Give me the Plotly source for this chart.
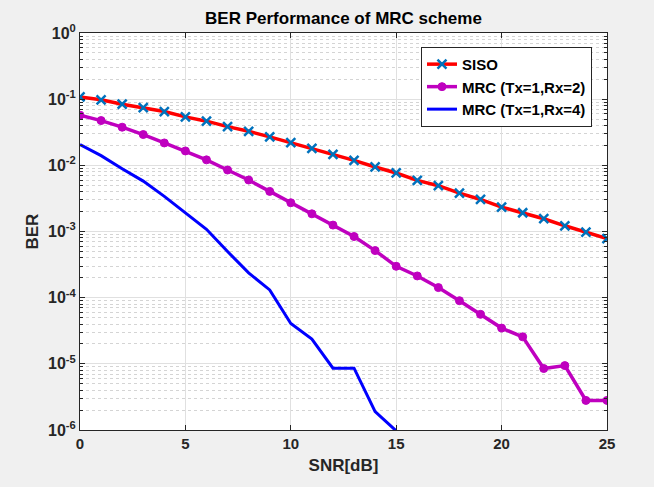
import plotly.graph_objects as go

snr = list(range(0, 26))
ber_siso = [0.108, 0.0977, 0.0839, 0.0748, 0.065, 0.054, 0.0465, 0.0385, 0.0327, 0.0269,
            0.022, 0.018, 0.0147, 0.0119, 0.00944, 0.00766, 0.00593, 0.00492, 0.00381, 0.00305,
            0.00234, 0.00192, 0.00156, 0.00122, 0.000977, 0.000783]
ber_mrc2 = [0.0573, 0.0475, 0.0377, 0.0292, 0.0218, 0.0165, 0.0121, 0.0085, 0.0060, 0.00404,
            0.00272, 0.00185, 0.00125, 0.00084, 0.000515, 0.000298, 0.000213, 0.000142, 9.0e-5, 5.6e-5,
            3.47e-5, 2.56e-5, 8.5e-6, 9.4e-6, 2.8e-6, 2.8e-6]
snr4 = list(range(0, 16))
ber_mrc4 = [0.0206, 0.014, 0.0089, 0.00578, 0.0034, 0.0019, 0.00108, 0.000498, 0.000237, 0.000131,
            4.08e-5, 2.37e-5, 8.6e-6, 8.6e-6, 1.9e-6, 9.7e-7]

names = ["SISO", "MRC (Tx=1,Rx=2)", "MRC (Tx=1,Rx=4)"]
title = "BER Performance of MRC scheme"
xlabel = "SNR[dB]"
ylabel = "BER"
x_ticks = [0, 5, 10, 15, 20, 25]
y_exponents = [-6, -5, -4, -3, -2, -1, 0]

FONT = "Liberation Sans, Arial, Helvetica, sans-serif"
AX = "#262626"

fig = go.Figure()
fig.add_trace(go.Scatter(
    x=snr, y=ber_siso, name="<b>" + names[0] + "</b>", mode="lines+markers",
    line=dict(color="#ff0000", width=3.5),
    marker=dict(symbol="x-thin-open", size=9, line=dict(color="#0072BD", width=2.5), color="#0072BD"),
))
fig.add_trace(go.Scatter(
    x=snr, y=ber_mrc2, name="<b>" + names[1] + "</b>", mode="lines+markers",
    line=dict(color="#bf00bf", width=3.5),
    marker=dict(symbol="circle", size=8, color="#bf00bf", line=dict(color="#bf00bf", width=1)),
))
fig.add_trace(go.Scatter(
    x=snr4, y=ber_mrc4, name="<b>" + names[2] + "</b>", mode="lines",
    line=dict(color="#0000ff", width=3),
))

fig.update_layout(
    width=654, height=487,
    paper_bgcolor="#f0f0f0", plot_bgcolor="#ffffff",
    margin=dict(l=80, r=47, t=33, b=57),
    font=dict(family=FONT, size=15, color=AX),
    title=dict(text="<b>" + title + "</b>", x=0.5, xref="paper", y=1 - 18 / 487, yref="container",
               yanchor="middle", xanchor="center", font=dict(size=17, color="#000000")),
    showlegend=True,
    legend=dict(x=0.9715, xanchor="right", y=0.965, yanchor="top",
                bgcolor="#ffffff", bordercolor=AX, borderwidth=1,
                font=dict(size=15, color="#000000"), tracegroupgap=0, itemwidth=30),
    annotations=[dict(text="<b>" + ylabel + "</b>", xref="paper", yref="paper",
                      x=-(80 - 32) / 527, y=0.5, xanchor="center", yanchor="middle",
                      textangle=-90, showarrow=False, font=dict(size=17, color=AX))],
)

fig.update_xaxes(
    range=[0, 25], tickvals=x_ticks, ticktext=["<b>%d</b>" % v for v in x_ticks],
    showline=True, linecolor=AX, linewidth=1, mirror="ticks",
    ticks="inside", ticklen=5, tickcolor=AX,
    showgrid=True, gridcolor="#e0e0e0", gridwidth=1, zeroline=False,
    tickfont=dict(size=15, color=AX),
    title=dict(text="<b>" + xlabel + "</b>", font=dict(size=17, color=AX), standoff=8),
)
fig.update_yaxes(
    type="log", range=[-6, 0],
    tickvals=[10.0 ** e for e in y_exponents],
    ticktext=["<b>10<sup>%d</sup></b>" % e for e in y_exponents],
    showline=True, linecolor=AX, linewidth=1, mirror="ticks",
    ticks="inside", ticklen=5, tickcolor=AX,
    showgrid=True, gridcolor="#e0e0e0", gridwidth=1, zeroline=False,
    minor=dict(dtick="D1", ticks="inside", ticklen=3, tickcolor=AX,
               showgrid=True, gridcolor="#d4d4d4", griddash="dot", gridwidth=1),
    tickfont=dict(size=16, color=AX),
)

fig.write_html("out.html")
